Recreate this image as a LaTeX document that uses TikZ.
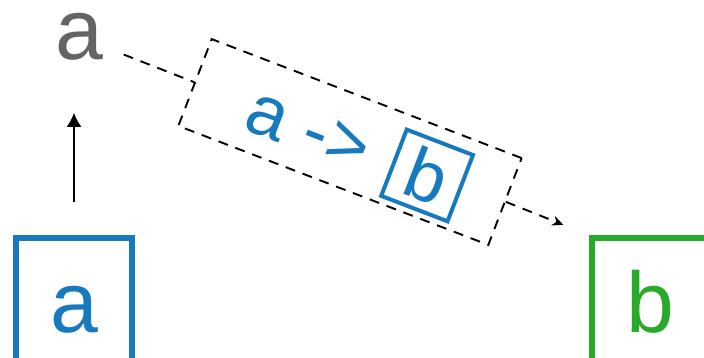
\documentclass[tikz,border=0pt]{standalone}
\usepackage{fontspec}
\setmainfont{Liberation Sans}
\usetikzlibrary{arrows.meta, positioning, calc}
\definecolor{lamblue}{RGB}{24,122,190}
\definecolor{lamgreen}{RGB}{42,170,42}
\definecolor{lamgray}{RGB}{100,100,100}

\begin{document}
\begin{tikzpicture}[x=1pt, y=1pt,
  every node/.style={inner sep=0pt},
  bigfont/.style={font=\fontsize{86}{86}\selectfont},
  valbox/.style={draw, line width=5.5pt, minimum width=116pt, minimum height=140pt,
    text height=49pt, text depth=0pt, bigfont},
  lamframe/.style={draw, dash pattern=on 10pt off 8pt, line width=1.9pt,
    minimum width=332pt, minimum height=93pt, transform shape},
  lamtext/.style={text=lamblue, font=\fontsize{72}{72}\selectfont, transform shape},
  resbox/.style={draw=lamblue, text=lamblue, line width=4pt, minimum size=71pt,
    font=\fontsize{72}{72}\selectfont, transform shape},
  flow/.style={dash pattern=on 10pt off 8pt, line width=1.9pt,
    -{Stealth[length=11pt, width=10pt]}},
  uparrow/.style={line width=2pt, -{Latex[length=14pt, width=15pt]}}
]
\useasboundingbox (0,0) rectangle (704,358);
\clip (0,0) rectangle (704,358);

% values
\node[valbox, draw=lamblue, text=lamblue] (boxa) at (74,50) {a};
\node[valbox, draw=lamgreen, text=lamgreen] (boxb) at (650,50) {b};
\node[bigfont, text=lamgray] (outa) at (79,321) {a};

% the function in its dashed frame
\begin{scope}[shift={(350,216)}, rotate=-21]
  \node[lamframe] (lam) at (0,0) {};
  \node[lamtext, anchor=base west] (lamarg) at (-106,-26) {a ->};
  \node[resbox] (lamres) at (84,-3.6) {b};
\end{scope}

% connectors
\draw[uparrow, shorten <=33pt, shorten >=52pt] (boxa.north) -- (boxa.north |- outa.south);
\draw[dash pattern=on 10pt off 8pt, line width=1.9pt, shorten <=48pt] (outa.center) -- (lam.west);
\draw[flow, shorten >=28pt] (lam.east) -- (boxb.north west);
\end{tikzpicture}
\end{document}
